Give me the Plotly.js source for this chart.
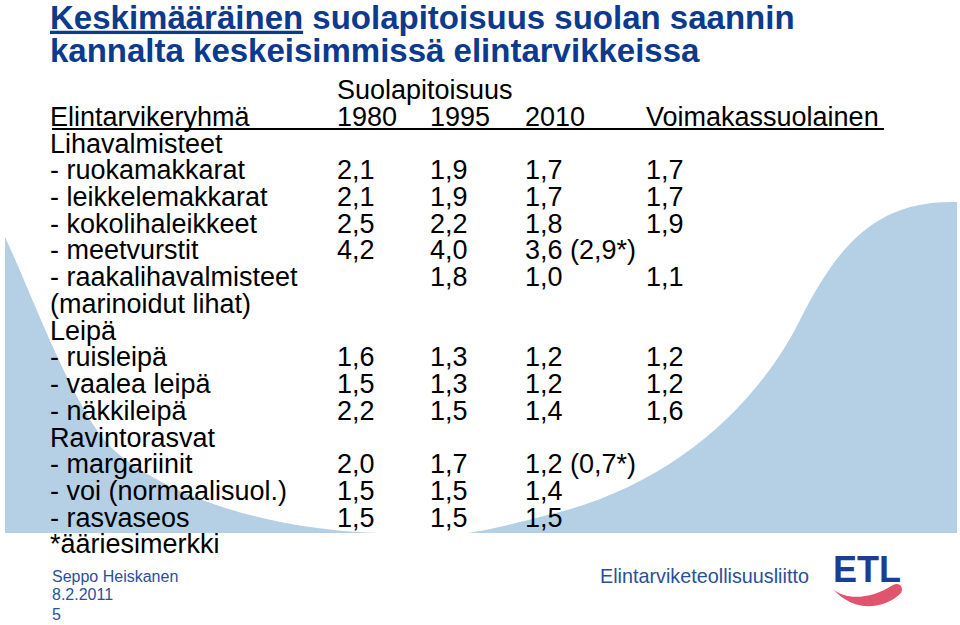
<!DOCTYPE html>
<html>
<head>
<meta charset="utf-8">
<script src="https://cdn.plot.ly/plotly-3.0.1.min.js"></script>
<style>
  body { margin: 0; background: #ffffff; }
  #chart { width: 960px; height: 625px; }
</style>
</head>
<body>
<div id="chart"></div>
<script>
"use strict";

// --- table content ---
var rowLabels = [
    "Lihavalmisteet",
    "- ruokamakkarat",
    "- leikkelemakkarat",
    "- kokolihaleikkeet",
    "- meetvurstit",
    "- raakalihavalmisteet",
    "(marinoidut lihat)",
    "Leipä",
    "- ruisleipä",
    "- vaalea leipä",
    "- näkkileipä",
    "Ravintorasvat",
    "- margariinit",
    "- voi (normaalisuol.)",
    "- rasvaseos"
];
var v1980 = [null, 2.1, 2.1, 2.5, 4.2, null, null, null, 1.6, 1.5, 2.2, null, 2.0, 1.5, 1.5];
var v1995 = [null, 1.9, 1.9, 2.2, 4.0, 1.8, null, null, 1.3, 1.3, 1.5, null, 1.7, 1.5, 1.5];
var v2010 = [null, 1.7, 1.7, 1.8, 3.6, 1.0, null, null, 1.2, 1.2, 1.4, null, 1.2, 1.4, 1.5];
var extreme2010 = [null, null, null, null, 2.9, null, null, null, null, null, null, null, 0.7, null, null];
var vStrong = [null, 1.7, 1.7, 1.9, null, 1.1, null, null, 1.2, 1.2, 1.6, null, null, null, null];

var years = ["1980", "1995", "2010"];
var groupHeader = "Suolapitoisuus";
var labelHeader = "Elintarvikeryhmä";
var strongHeader = "Voimakassuolainen";
var footnote = "*ääriesimerkki";

var titleLines = ["<u>Keskimääräinen</u> suolapitoisuus suolan saannin",
                  "kannalta keskeisimmissä elintarvikkeissa"];
var author = ["Seppo Heiskanen", "8.2.2011", "5"];
var orgName = "Elintarviketeollisuusliitto";
var logoText = "ETL";

// --- look ---
var FONT = "Liberation Sans, Arial, Helvetica, sans-serif";
var TITLE_BLUE = "#0b3a8e";
var FOOT_BLUE = "#2a4f9a";
var SWOOSH = "#b5cfe5";
var colX = [50, 337, 430, 525, 646];   // left edge of each table column (px)
var ROW_PX = 26.73;                    // row height (px)
var ROW0_PX = 145.75;                  // pixel of row 0
var FS = 27;

function fmt(v){
    return v.toFixed(1).replace(".", ",");
}

function textTrace(x, y, text, size, color, pos, yaxis){
    return {
        type: "scatter",
        mode: "text",
        x: x,
        y: y,
        text: text,
        textposition: pos || "middle right",
        textfont: {family: FONT, size: size, color: color},
        cliponaxis: false,
        hoverinfo: "skip",
        showlegend: false,
        yaxis: yaxis || "y"
    };
}

// builds one table column: header on row -1 then the values
function columnTrace(colIdx, header, values, extra){
    var xs = [colX[colIdx]];
    var ys = [-1];
    var ts = [header];
    values.forEach(function(v, i){
        if(v === null) return;
        var t = fmt(v);
        if(extra && extra[i] !== null){
            t += " (" + fmt(extra[i]) + "*)";
        }
        xs.push(colX[colIdx]);
        ys.push(i);
        ts.push(t);
    });
    return textTrace(xs, ys, ts, FS, "#000000");
}

var traces = [];

// left column with labels, header and footnote
var labelRows = rowLabels.map(function(d, i){ return i; }).concat([-1, rowLabels.length]);
traces.push(textTrace(
    labelRows.map(function(){ return colX[0]; }),
    labelRows,
    rowLabels.concat([labelHeader, footnote]),
    FS, "#000000"));

traces.push(textTrace([colX[1]], [-2], [groupHeader], FS, "#000000"));
traces.push(columnTrace(1, years[0], v1980));
traces.push(columnTrace(2, years[1], v1995));
traces.push(columnTrace(3, years[2], v2010, extreme2010));
traces.push(columnTrace(4, strongHeader, vStrong));

// title + footer live on the pixel axis (y2)
var titleTrace = textTrace([50, 50], [20.5, 54], titleLines, 33, TITLE_BLUE, "middle right", "y2");
titleTrace.texttemplate = "<b>%{text}</b>";
traces.push(titleTrace);
traces.push(textTrace([52, 52, 52], [578, 596, 616], author, 16, FOOT_BLUE, "middle right", "y2"));
traces.push(textTrace([600], [578], [orgName], 19.8, FOOT_BLUE, "middle right", "y2"));
traces.push(textTrace([867], [573], ["<b>" + logoText + "</b>"], 36, "#1a3f91", "middle center", "y2"));

var rowTop = -ROW0_PX / ROW_PX;
var rowBottom = rowTop + 625 / ROW_PX;

var layout = {
    width: 960,
    height: 625,
    margin: {l: 0, r: 0, t: 0, b: 0},
    paper_bgcolor: "#ffffff",
    plot_bgcolor: "rgba(0,0,0,0)",
    showlegend: false,
    hovermode: false,
    xaxis: {range: [0, 960], visible: false, fixedrange: true},
    yaxis: {range: [rowBottom, rowTop], visible: false, fixedrange: true},
    yaxis2: {range: [625, 0], overlaying: "y", visible: false, fixedrange: true},
    shapes: [
        // light blue swooshes behind the table
        {type: "path", xref: "x", yref: "y2", layer: "below", line: {width: 0}, fillcolor: SWOOSH,
         path: "M 5 237 C 30 290, 70 400, 107 443 C 135 475, 230 528, 378 533 L 5 533 Z"},
        {type: "path", xref: "x", yref: "y2", layer: "below", line: {width: 0}, fillcolor: SWOOSH,
         path: "M 957 202 C 880 200, 840 240, 800 320 C 760 400, 680 480, 560 512 C 520 522, 490 530, 467 533 L 957 533 Z"},
        // header underline
        {type: "line", xref: "x", yref: "y2", x0: 52, x1: 884, y0: 129, y1: 129,
         line: {color: "#000000", width: 2}},
        // smile of the ETL logo
        {type: "path", xref: "x", yref: "y2", line: {width: 0}, fillcolor: "#e1546d",
         path: "M 833 589 C 845 600, 870 600, 893 585 C 900 581, 905 589, 900 594 C 885 608, 855 614, 833 589 Z"}
    ]
};

Plotly.newPlot("chart", traces, layout, {staticPlot: true});
</script>
</body>
</html>
